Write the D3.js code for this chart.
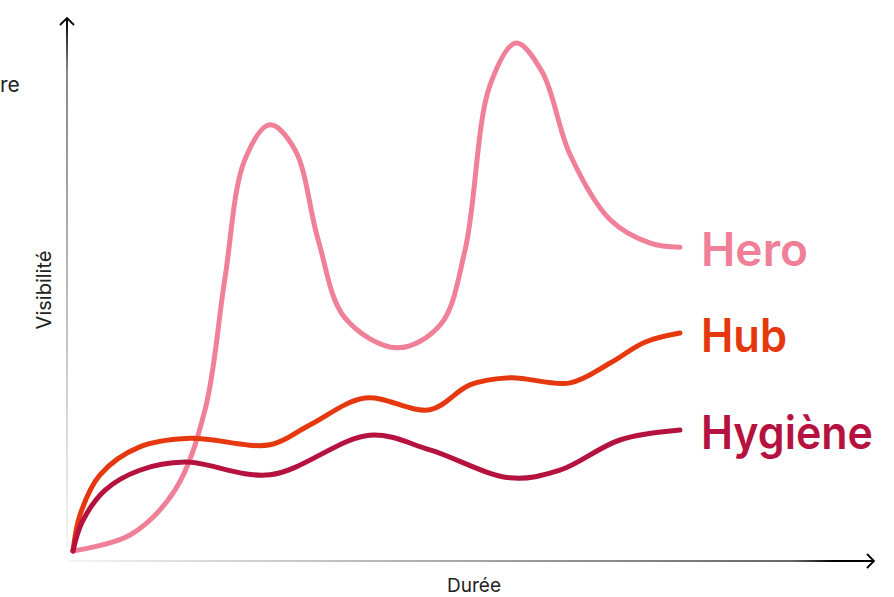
<!DOCTYPE html>
<html><head><meta charset="utf-8">
<script src="https://cdn.jsdelivr.net/npm/d3@7"></script>
<style>html,body{margin:0;padding:0;background:#fff;}svg{display:block;}</style>
</head><body>
<svg id="c" width="894" height="597"></svg>
<script>
const seriesNames = ["Hero", "Hub", "Hygiène"];
const seriesColors = ["#F07F98", "#E5380E", "#B5123F"];
const heroX = [0, 9.4, 16.8, 21.75, 25.0, 28.3, 32.45, 36.6, 40.4, 44.8, 53.4, 60.5, 64.6, 68.7, 73.0, 77.3, 81.9, 88.5, 95.1, 100];
const heroY = [0, 3.15, 12.0, 27.8, 53.4, 77.0, 83.9, 78.9, 61.2, 45.9, 40.0, 44.5, 59.3, 91.7, 100, 94.3, 78.0, 65.2, 60.6, 59.8];
const hubX = [0, 1.15, 4.45, 11.0, 19.3, 32.45, 39.0, 48.1, 58.8, 65.4, 72.0, 81.9, 88.5, 94.2, 100];
const hubY = [0, 7.1, 15.0, 20.5, 22.2, 20.9, 24.8, 30.1, 27.8, 32.7, 34.1, 33.1, 37.0, 41.1, 42.9];
const hygX = [0, 1.5, 5.3, 11.0, 18.45, 32.45, 48.9, 58.8, 72.0, 80.2, 90.1, 100];
const hygY = [0, 5.7, 12.0, 15.9, 17.5, 15.0, 22.8, 19.9, 14.4, 15.9, 21.85, 23.8];
const xLabel = "Durée";
const yLabel = "Visibilité";
const cornerText = "re";

const svg = d3.select("#c");
const x = d3.scaleLinear().domain([0, 100]).range([73, 680]);
const y = d3.scaleLinear().domain([0, 100]).range([551, 43]);

const defs = svg.append("defs");
const gy = defs.append("linearGradient").attr("id", "gy").attr("gradientUnits", "userSpaceOnUse")
  .attr("x1", 0).attr("y1", 18).attr("x2", 0).attr("y2", 548);
gy.append("stop").attr("offset", "0").attr("stop-color", "#000");
gy.append("stop").attr("offset", "0.06").attr("stop-color", "#555");
gy.append("stop").attr("offset", "0.1").attr("stop-color", "#888");
gy.append("stop").attr("offset", "1").attr("stop-color", "#f4f4f4");
const gx = defs.append("linearGradient").attr("id", "gx").attr("gradientUnits", "userSpaceOnUse")
  .attr("x1", 68).attr("y1", 0).attr("x2", 874).attr("y2", 0);
gx.append("stop").attr("offset", "0").attr("stop-color", "#f4f4f4");
gx.append("stop").attr("offset", "0.9").attr("stop-color", "#666");
gx.append("stop").attr("offset", "0.95").attr("stop-color", "#000");
gx.append("stop").attr("offset", "1").attr("stop-color", "#000");

// axes
svg.append("line").attr("x1", 67).attr("y1", 18).attr("x2", 67).attr("y2", 548)
  .attr("stroke", "url(#gy)").attr("stroke-width", 2);
svg.append("path").attr("d", "M60,25 L67,18 L74,25").attr("fill", "none").attr("stroke", "#000").attr("stroke-width", 1.8);
svg.append("line").attr("x1", 68).attr("y1", 561).attr("x2", 874).attr("y2", 561)
  .attr("stroke", "url(#gx)").attr("stroke-width", 2);
svg.append("path").attr("d", "M867,554 L874,561 L867,568").attr("fill", "none").attr("stroke", "#000").attr("stroke-width", 1.8);

svg.append("text").attr("x", 474).attr("y", 592).attr("text-anchor", "middle")
  .attr("font-family", "Inter, sans-serif").attr("font-size", 19).attr("fill", "#222").text(xLabel);
svg.append("text").attr("transform", "translate(51,290) rotate(-90)").attr("text-anchor", "middle")
  .attr("font-family", "Inter, sans-serif").attr("font-size", 20).attr("fill", "#222").text(yLabel);
svg.append("text").attr("x", 0).attr("y", 92)
  .attr("font-family", "Inter, sans-serif").attr("font-size", 21).attr("fill", "#222").text(cornerText);

const labelWidths = [107, 86, 172];
const series = [
  {name: seriesNames[0], color: seriesColors[0], xs: heroX, ys: heroY},
  {name: seriesNames[1], color: seriesColors[1], xs: hubX, ys: hubY},
  {name: seriesNames[2], color: seriesColors[2], xs: hygX, ys: hygY}
];
const line = d3.line().x(d => x(d[0])).y(d => y(d[1])).curve(d3.curveCatmullRom.alpha(0.5));
series.forEach((s, i) => {
  const pts = s.xs.map((v, k) => [v, s.ys[k]]);
  svg.append("path").datum(pts).attr("d", line).attr("fill", "none")
    .attr("stroke", s.color).attr("stroke-width", 5).attr("stroke-linecap", "round").attr("stroke-linejoin", "round");
  const last = pts[pts.length - 1];
  svg.append("text").attr("x", x(last[0]) + 21).attr("y", y(last[1]) + 19)
    .attr("font-family", "Inter, sans-serif").attr("font-weight", 600).attr("font-size", 46)
    .attr("textLength", labelWidths[i]).attr("lengthAdjust", "spacingAndGlyphs")
    .attr("fill", s.color).text(s.name);
});
</script>
</body></html>
